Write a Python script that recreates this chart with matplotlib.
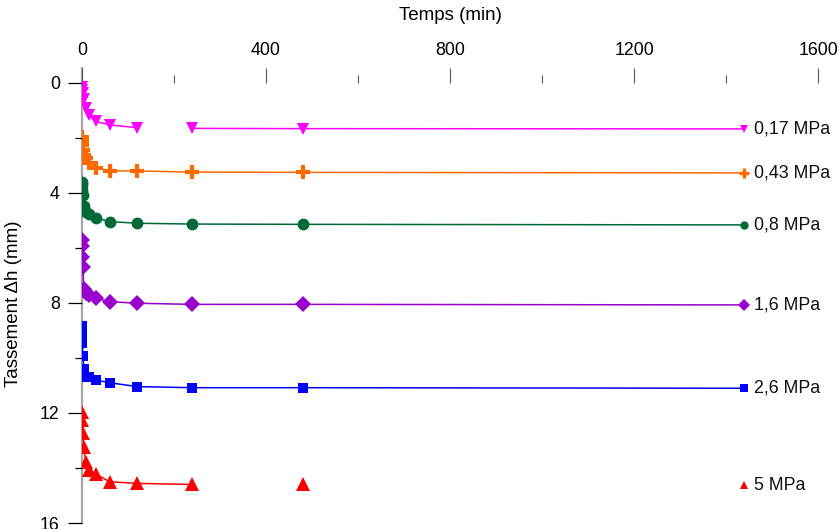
import matplotlib
matplotlib.use("Agg")
import matplotlib.pyplot as plt
import numpy as np

plt.rcParams['font.family'] = ['Liberation Sans', 'DejaVu Sans']

# ---- data (time in min, settlement in mm) ----
labels = ["0,17 MPa", "0,43 MPa", "0,8 MPa", "1,6 MPa", "2,6 MPa", "5 MPa"]

t_017 = [0.25, 1, 2, 4, 8, 15, 30, 60, 120, 240, 480, 1440]
h_017 = [0.15, 0.26, 0.38, 0.60, 0.90, 1.18, 1.40, 1.52, 1.63, 1.65, 1.66, 1.67]

t_043 = [0.25, 0.5, 1, 2, 4, 8, 15, 30, 60, 120, 240, 480, 1440]
h_043 = [1.97, 2.12, 2.25, 2.44, 2.62, 2.74, 2.90, 3.08, 3.19, 3.20, 3.24, 3.25, 3.27]

t_08 = [0.25, 0.5, 1, 2, 4, 8, 15, 30, 60, 120, 240, 480, 1440]
h_08 = [3.59, 3.72, 3.90, 4.08, 4.46, 4.68, 4.76, 4.90, 5.04, 5.10, 5.13, 5.14, 5.16]

t_16 = [0.25, 0.5, 1, 2, 4, 8, 15, 30, 60, 120, 240, 480, 1440]
h_16 = [5.71, 5.92, 6.31, 6.68, 7.50, 7.62, 7.72, 7.83, 7.95, 8.01, 8.05, 8.05, 8.07]

t_26 = [0.25, 0.5, 1, 2, 4, 8, 15, 30, 60, 120, 240, 480, 1440]
h_26 = [8.83, 9.08, 9.47, 9.92, 10.40, 10.68, 10.70, 10.80, 10.90, 11.04, 11.08, 11.08, 11.10]

t_5 = [0.5, 1, 2, 4, 8, 15, 30, 60, 120, 240, 480, 1440]
h_5 = [11.95, 12.25, 12.72, 13.22, 13.77, 14.07, 14.22, 14.50, 14.56, 14.60, 14.60, 14.62]

times = [t_017, t_043, t_08, t_16, t_26, t_5]
values = [h_017, h_043, h_08, h_16, h_26, h_5]
# segments (given by their start time) where the connecting line is absent
line_gaps = [[120], [], [], [], [], [240, 480]]

colors = ["#ff00ff", "#ff6a00", "#00693a", "#9900cc", "#0000ff", "#ff0000"]
markers = ["v", "P", "o", "D", "s", "^"]
msizes = [9, 9.5, 8.5, 8, 7.5, 9.5]

x_major = [0, 400, 800, 1200, 1600]
x_minor = [200, 600, 1000, 1400]
y_major = [0, 4, 8, 12, 16]
y_minor = [2, 6, 10, 14]

# ---- figure ----
W, H = 839, 529
fig = plt.figure(figsize=(W / 100, H / 100), dpi=100)
ax = fig.add_axes([82 / W, (H - 523) / H, (818 - 82) / W, (523 - 68) / H])
ax.set_xlim(0, 1600)
ax.set_ylim(16, -0.545)

for t, h, gaps, c, m, ms, lab in zip(times, values, line_gaps, colors, markers, msizes, labels):
    xs, ys = [], []
    for i in range(len(t) - 1):
        if t[i] in gaps:
            continue
        xs += [t[i], t[i + 1], np.nan]
        ys += [h[i], h[i + 1], np.nan]
    ax.plot(xs, ys, color=c, lw=1.1, zorder=2)
    if m == "P":
        ax.plot(t[:-1], h[:-1], ls="none", marker="+", ms=ms, mew=3, color=c, zorder=3)
        ax.plot(t[-1:], h[-1:], ls="none", marker="+", ms=7, mew=2.4, color=c, zorder=3)
    else:
        ax.plot(t[:-1], h[:-1], ls="none", marker=m, ms=ms, mew=0, color=c, zorder=3)
        ax.plot(t[-1:], h[-1:], ls="none", marker=m, ms=6, mew=0, color=c, zorder=3)
    ax.annotate(lab, (t[-1], h[-1]), xytext=(7, 0), textcoords="offset points",
                va="center", ha="left", fontsize=12.8, color="#111111",
                annotation_clip=False)

# axes styling
for s in ["right", "bottom"]:
    ax.spines[s].set_visible(False)
ax.spines["top"].set_position(("data", 0))
ax.spines["top"].set_visible(False)
ax.spines["left"].set_color("#a6a6a6")
ax.spines["left"].set_linewidth(1.6)
ax.spines["left"].set_zorder(1)

ax.xaxis.tick_top()
ax.xaxis.set_label_position("top")
ax.set_xticks(x_major)
ax.set_xticks(x_minor, minor=True)
ax.set_yticks(y_major)
ax.set_yticks(y_minor, minor=True)
ax.tick_params(axis="x", which="major", direction="out", length=10.5, width=0.8,
               color="#555555", labelsize=12.8, pad=7)
ax.tick_params(axis="x", which="minor", direction="out", length=5.5, width=0.8,
               color="#555555")
ax.tick_params(axis="y", which="major", direction="out", length=10, width=0.9,
               color="black", labelsize=12.8, pad=6)
ax.tick_params(axis="y", which="minor", direction="out", length=5, width=0.9,
               color="black")

ax.set_xlabel("Temps (min)", fontsize=13.5)
ax.xaxis.set_label_coords(0.5, (523 - 20) / 455)
ax.set_ylabel("Tassement \u0394h (mm)", fontsize=13.5)
ax.yaxis.set_label_coords(-(82 - 22) / 736, (523 - 304) / 455)

fig.savefig("out.png", dpi=100)
